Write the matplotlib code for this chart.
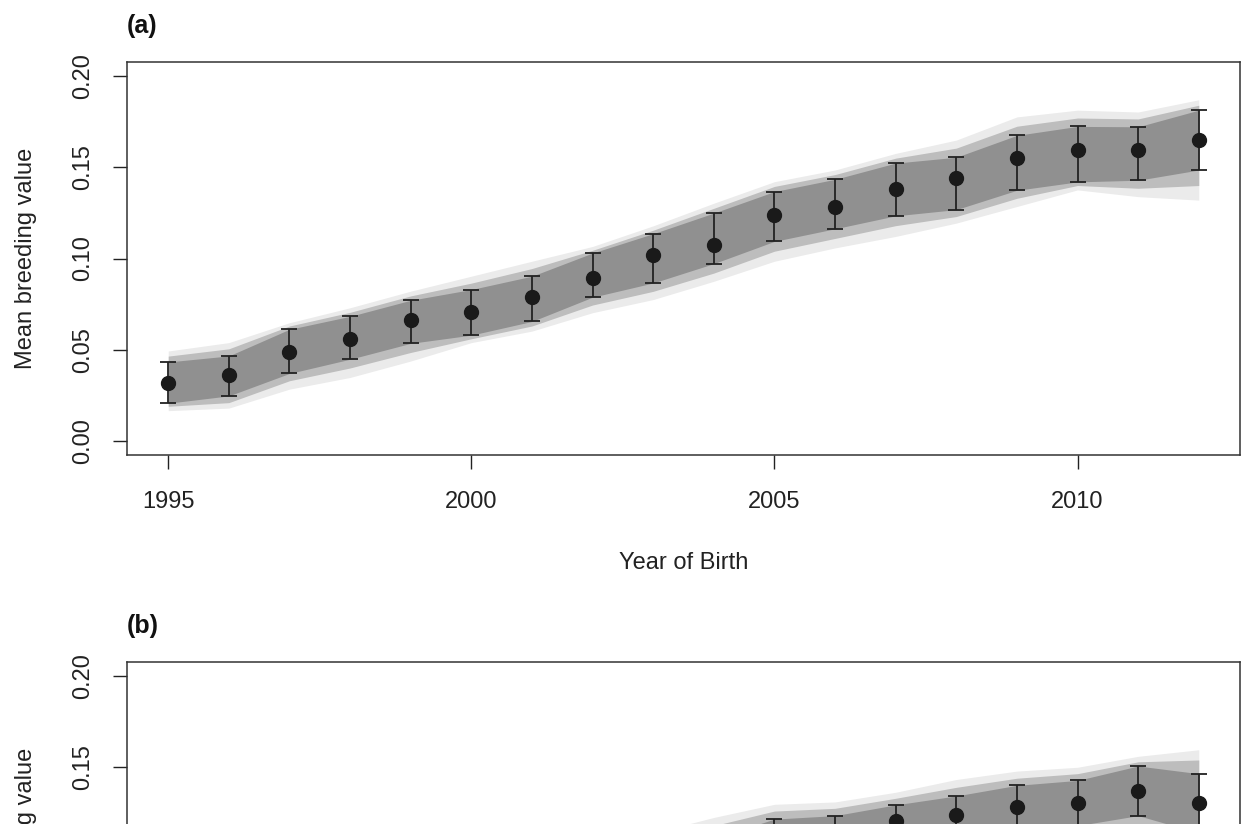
import numpy as np
import matplotlib
matplotlib.use("Agg")
import matplotlib.pyplot as plt

plt.rcParams['font.family'] = ['Liberation Sans', 'DejaVu Sans']

years = list(range(1995, 2013))

# panel (a): posterior mean and interval per birth year
mean_a = [0.0317, 0.0362, 0.0488, 0.0557, 0.0662, 0.0708, 0.0788, 0.0895, 0.1017,
          0.1076, 0.1236, 0.1285, 0.1383, 0.1440, 0.1552, 0.1594, 0.1596, 0.1651]
hi_a = [0.0433, 0.0466, 0.0612, 0.0683, 0.0771, 0.0830, 0.0903, 0.1030, 0.1136,
        0.1249, 0.1367, 0.1434, 0.1523, 0.1555, 0.1675, 0.1724, 0.1722, 0.1813]
lo_a = [0.0207, 0.0247, 0.0370, 0.0448, 0.0535, 0.0580, 0.0655, 0.0788, 0.0866,
        0.0972, 0.1094, 0.1163, 0.1234, 0.1268, 0.1374, 0.1420, 0.1429, 0.1485]
# spread of the posterior sample lines (outer faint edge, denser inner edge)
band_out_hi_a = [0.0493, 0.0539, 0.0648, 0.0730, 0.0821, 0.0903, 0.0985, 0.1066, 0.1179,
                 0.1303, 0.1421, 0.1485, 0.1576, 0.1649, 0.1776, 0.1813, 0.1803, 0.1870]
band_out_lo_a = [0.0166, 0.0180, 0.0284, 0.0348, 0.0438, 0.0539, 0.0602, 0.0703, 0.0775,
                 0.0875, 0.0985, 0.1058, 0.1121, 0.1194, 0.1285, 0.1376, 0.1339, 0.1320]
band_mid_hi_a = [0.0465, 0.0505, 0.0630, 0.0705, 0.0795, 0.0865, 0.0945, 0.1045, 0.1155,
                 0.1275, 0.1395, 0.1460, 0.1550, 0.1605, 0.1725, 0.1770, 0.1765, 0.1840]
band_mid_lo_a = [0.0190, 0.0210, 0.0330, 0.0400, 0.0485, 0.0560, 0.0630, 0.0745, 0.0820,
                 0.0920, 0.1040, 0.1110, 0.1180, 0.1230, 0.1330, 0.1400, 0.1385, 0.1400]

# panel (b): only the top part is visible
mean_b = [0.0200, 0.0260, 0.0340, 0.0410, 0.0490, 0.0570, 0.0660, 0.0760, 0.0890,
          0.1000, 0.1100, 0.1120, 0.1207, 0.1240, 0.1280, 0.1305, 0.1372, 0.1305]
hi_b = [0.0310, 0.0370, 0.0450, 0.0520, 0.0600, 0.0680, 0.0770, 0.0870, 0.1000,
        0.1110, 0.1216, 0.1235, 0.1294, 0.1343, 0.1401, 0.1428, 0.1507, 0.1465]
lo_b = [0.0090, 0.0150, 0.0230, 0.0300, 0.0380, 0.0460, 0.0550, 0.0650, 0.0780,
        0.0890, 0.0980, 0.1000, 0.1110, 0.1130, 0.1160, 0.1180, 0.1235, 0.1140]
band_out_hi_b = [0.0400, 0.0460, 0.0540, 0.0610, 0.0690, 0.0770, 0.0860, 0.0960, 0.1140,
                 0.1225, 0.1297, 0.1310, 0.1363, 0.1433, 0.1479, 0.1500, 0.1560, 0.1596]
band_out_lo_b = [0.0000, 0.0060, 0.0140, 0.0210, 0.0290, 0.0370, 0.0460, 0.0560, 0.0680,
                 0.0790, 0.0880, 0.0900, 0.1000, 0.1030, 0.1060, 0.1080, 0.1120, 0.1040]
band_mid_hi_b = [0.0360, 0.0420, 0.0500, 0.0570, 0.0650, 0.0730, 0.0820, 0.0920, 0.1080,
                 0.1180, 0.1260, 0.1275, 0.1330, 0.1390, 0.1440, 0.1465, 0.1530, 0.1540]
band_mid_lo_b = [0.0040, 0.0100, 0.0180, 0.0250, 0.0330, 0.0410, 0.0500, 0.0600, 0.0720,
                 0.0830, 0.0920, 0.0940, 0.1050, 0.1080, 0.1110, 0.1130, 0.1180, 0.1090]

yticks_a = [0.00, 0.05, 0.10, 0.15, 0.20]
yticks_b = [0.15, 0.20]  # the lower ticks of panel (b) fall below the crop

W, H = 1241, 824
fig = plt.figure(figsize=(W / 100, H / 100), dpi=100)


def px_axes(left, top, right, bottom):
    return fig.add_axes([left / W, 1 - bottom / H, (right - left) / W, (bottom - top) / H])


ink = '#222222'


def draw_panel(ax, mean, hi, lo, out_hi, out_lo, mid_hi, mid_lo, tag, yticks, show_x=True):
    ax.fill_between(years, out_lo, out_hi, color='#ebebeb', lw=0, zorder=1)
    ax.fill_between(years, mid_lo, mid_hi, color='#bdbdbd', lw=0, zorder=2)
    ax.fill_between(years, lo, hi, color='#909090', lw=0, zorder=3)
    m = np.array(mean)
    ax.errorbar(years, mean, yerr=[m - np.array(lo), np.array(hi) - m], fmt='o',
                color='#1a1a1a', ecolor=ink, elinewidth=1.3, capsize=6, capthick=1.3,
                markersize=10, zorder=5)
    ax.set_xlim(1994.32, 2012.68)
    ax.set_ylim(-0.0077, 0.2077)
    ax.set_xticks([1995, 2000, 2005, 2010])
    ax.set_yticks(yticks)
    ax.set_yticklabels([f'{t:.2f}' for t in yticks], rotation=90, va='center')
    ax.tick_params(axis='both', length=10, width=1.0, color=ink, labelsize=17,
                   labelcolor=ink)
    ax.tick_params(axis='y', pad=14)
    ax.tick_params(axis='x', pad=16)
    for s in ax.spines.values():
        s.set_linewidth(1.1)
        s.set_color('#333333')
    if show_x:
        ax.set_xlabel('Year of Birth', fontsize=17, color=ink, labelpad=28)
    else:
        # lower part of panel (b) lies outside the cropped picture
        ax.tick_params(axis='x', labelbottom=False)
    ax.set_ylabel('Mean breeding value', fontsize=17, color=ink, labelpad=25)
    ax.text(0.0, 1.06, tag, transform=ax.transAxes, fontsize=18, fontweight='bold',
            ha='left', va='bottom', color='#111111')


ax1 = px_axes(127, 62, 1240, 455)
draw_panel(ax1, mean_a, hi_a, lo_a, band_out_hi_a, band_out_lo_a,
           band_mid_hi_a, band_mid_lo_a, '(a)', yticks_a)

ax2 = px_axes(127, 662, 1240, 1055)
draw_panel(ax2, mean_b, hi_b, lo_b, band_out_hi_b, band_out_lo_b,
           band_mid_hi_b, band_mid_lo_b, '(b)', yticks_b, show_x=False)

fig.savefig('out.png', dpi=100)
